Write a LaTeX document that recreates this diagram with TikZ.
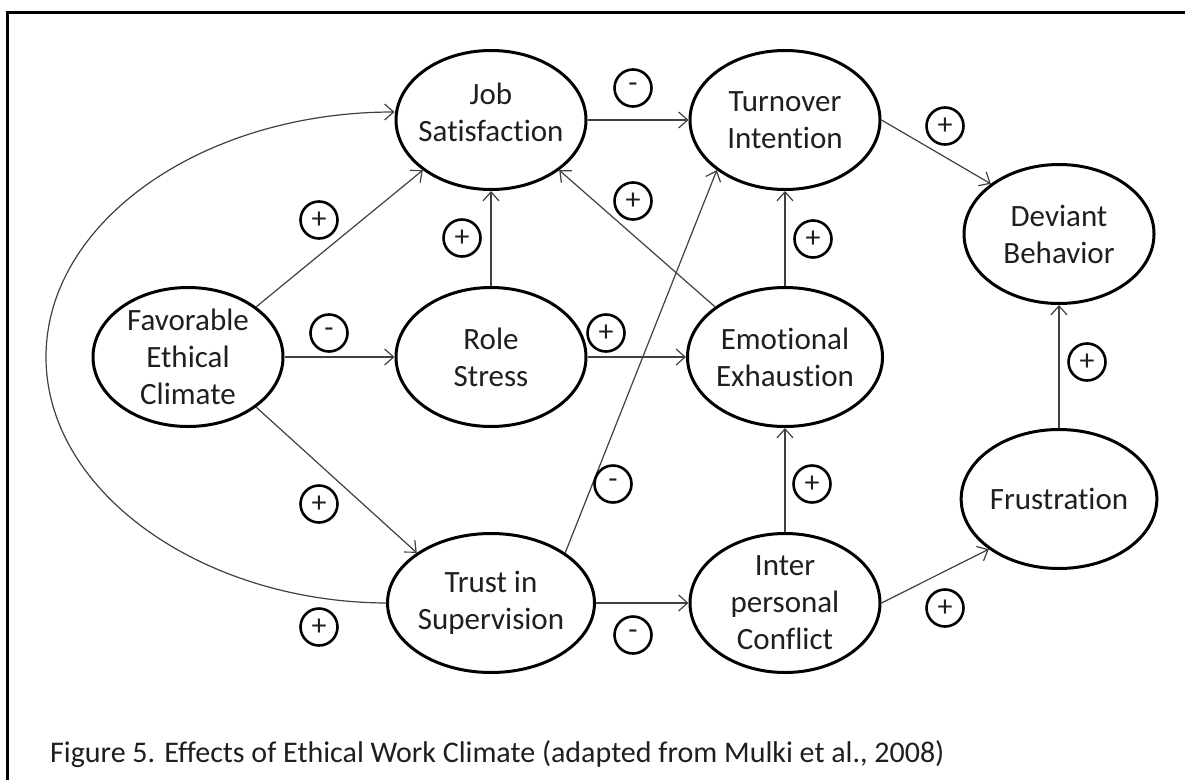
\documentclass[tikz,border=0pt]{standalone}
\usepackage{fontspec}
\setmainfont{Carlito}[Ligatures=NoCommon]
\usetikzlibrary{arrows.meta,shapes.geometric}
\begin{document}
\begin{tikzpicture}[x=1pt,y=1pt,
  var/.style={ellipse, draw=black, line width=3pt, minimum width=190pt, minimum height=139pt, inner sep=0pt, align=center, text=black!88, font=\fontsize{31}{37}\selectfont},
  vtext/.style={align=center, inner sep=0pt, text=black!88, font=\fontsize{31}{37}\selectfont},
  sgn/.style={circle, draw=black, line width=2.6pt, minimum size=37pt, inner sep=0pt, text=black!88, font=\fontsize{30}{30}\selectfont},
  conn/.style={line width=1.2pt, draw=black!75, -{Straight Barb[length=9pt,width=16pt,line width=1.2pt]}}
]
\useasboundingbox (0,0) rectangle (1185,-779);
\fill[white] (0,0) rectangle (1185,-779);
\draw[line width=3pt] (7,-781) -- (7,-12) -- (1187,-12);

% variables
\node[var] (fec) at (188,-357) {Favorable\\Ethical\\Climate};
\node[var] (js)  at (491,-120) {};
\node[vtext] (jst) at (491,-112) {Job\\Satisfaction};
\node[var] (rs)  at (491,-357) {Role\\Stress};
\node[var] (ts)  at (491,-603) {Trust in\\Supervision};
\node[var] (ti)  at (785,-120) {Turnover\\Intention};
\node[var] (ee)  at (785,-357) {Emotional\\Exhaustion};
\node[var] (ic)  at (785,-603) {Inter\\personal\\Conflict};
\node[var] (db)  at (1059,-234) {Deviant\\Behavior};
\node[var] (fr)  at (1059,-499) {Frustration};

% connectors
\draw[conn] (fec) -- (rs);
\draw[conn] (fec.north east) -- (js.south west);
\draw[conn] (fec.south east) -- (ts.north west);
\draw[conn] (rs) -- (js);
\draw[conn] (rs) -- (ee);
\draw[conn] (js) -- (ti);
\draw[conn] (ee.north west) -- (js.south east);
\draw[conn] (ee) -- (ti);
\draw[conn] (ts.north east) -- (ti.south west);
\draw[conn] (ts) -- (ic);
\draw[conn] (ic) -- (ee);
\draw[conn] (ti.east) -- (db.north west);
\draw[conn] (ic.east) -- (fr.south west);
\draw[conn] (fr) -- (db);
\draw[conn] (ts.west) .. controls (202,-602) and (46,-492) .. (46,-357)
  .. controls (46,-222) and (202,-112) .. ([yshift=8pt]js.west);

% signs
\node[sgn] (s1)  at (319,-220) {+};
\node[sgn] (s2)  at (329,-333) {-};
\node[sgn] (s3)  at (462,-238) {+};
\node[sgn] (s4)  at (606,-333) {+};
\node[sgn] (s5)  at (633,-88)  {-};
\node[sgn] (s6)  at (633,-201) {+};
\node[sgn] (s7)  at (813,-239) {+};
\node[sgn] (s8)  at (945,-126) {+};
\node[sgn] (s9)  at (1087,-362) {+};
\node[sgn] (s10) at (613,-484) {-};
\node[sgn] (s11) at (812,-484) {+};
\node[sgn] (s12) at (945,-608) {+};
\node[sgn] (s13) at (633,-635) {-};
\node[sgn] (s14) at (319,-504) {+};
\node[sgn] (s15) at (319,-627) {+};

% caption
\node[anchor=base west, inner sep=0pt, text=black!88, font=\fontsize{30}{34}\selectfont] (cap) at (50,-762) {Figure 5. Effects of Ethical Work Climate (adapted from Mulki et al., 2008)};
\end{tikzpicture}
\end{document}
